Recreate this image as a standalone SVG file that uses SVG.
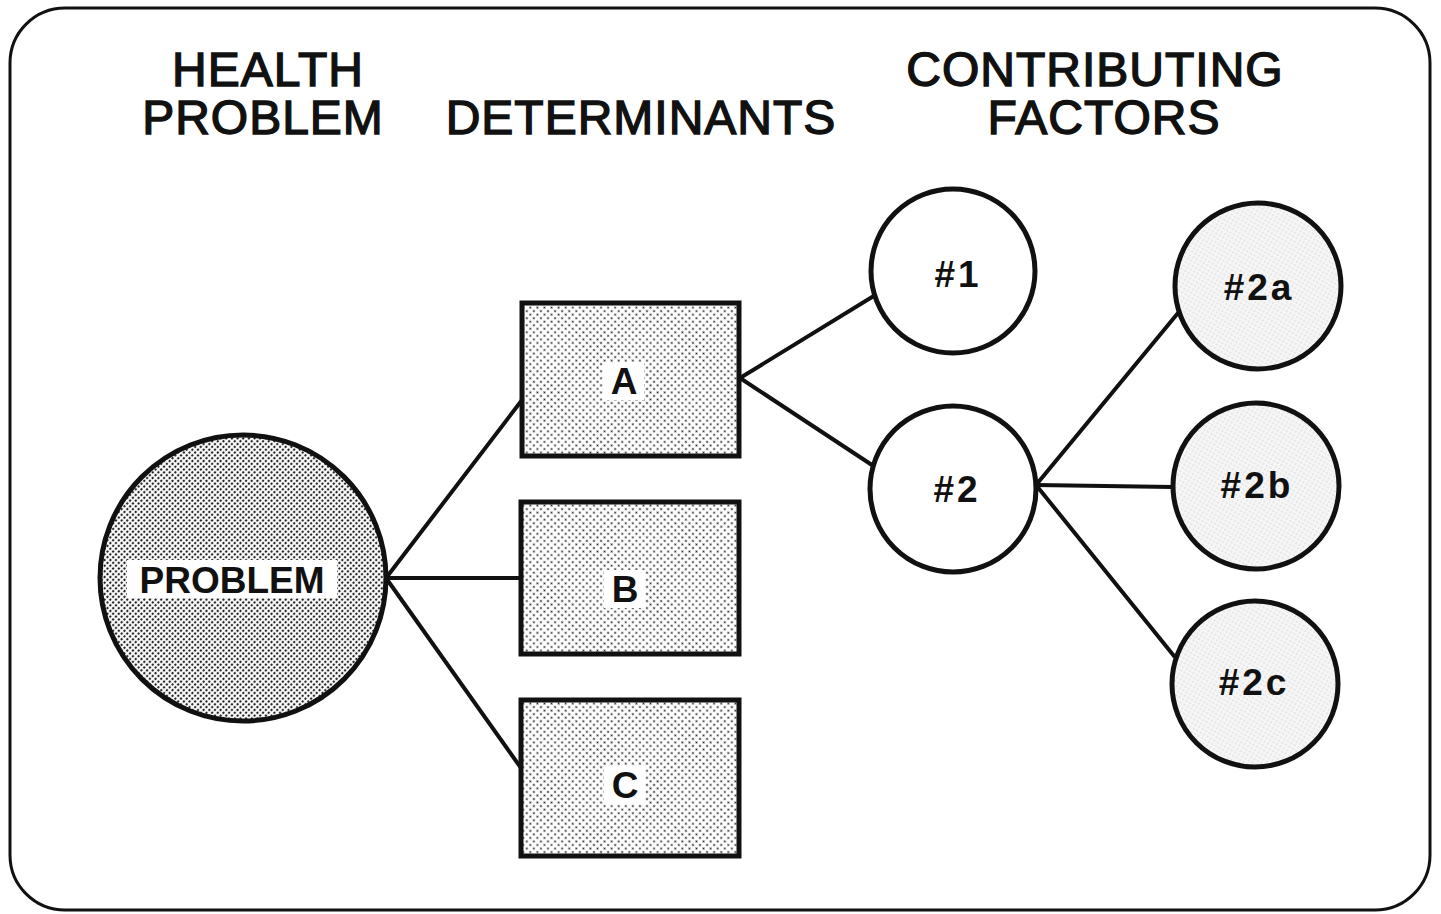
<svg xmlns="http://www.w3.org/2000/svg" width="1441" height="914" viewBox="0 0 1441 914">
<style>
.hdr{font-family:"Liberation Sans",Arial,sans-serif;font-weight:normal;font-size:48px;fill:#111;stroke:#111;stroke-width:1.4px;text-anchor:middle;letter-spacing:1px}
.lbl{font-family:"Liberation Sans",Arial,sans-serif;font-weight:bold;font-size:37px;fill:#111;text-anchor:middle}
.num{font-family:"Liberation Sans",Arial,sans-serif;font-weight:bold;font-size:37px;fill:#111;text-anchor:middle;letter-spacing:3px}
.shape{stroke:#111;stroke-width:5}
.conn line{stroke:#111;stroke-width:4;stroke-linecap:round}
.bg{fill:#fff}
</style>
<defs>
<pattern id="dense" width="4" height="4" patternUnits="userSpaceOnUse" patternTransform="rotate(45)">
<rect width="4" height="4" fill="#fff"/><circle cx="2" cy="2" r="1.2" fill="#222"/>
</pattern>
<pattern id="med" width="5" height="5" patternUnits="userSpaceOnUse" patternTransform="rotate(45)">
<rect width="5" height="5" fill="#fff"/><circle cx="2.5" cy="2.5" r="1.05" fill="#222"/>
</pattern>
<pattern id="light" width="4" height="4" patternUnits="userSpaceOnUse" patternTransform="rotate(30)">
<rect width="4" height="4" fill="#f6f6f6"/><circle cx="2" cy="2" r="0.45" fill="#777"/>
</pattern>
</defs>
<rect width="1441" height="914" fill="#fff"/>
<rect id="frame" x="10" y="8" width="1420" height="902" rx="55" ry="55" fill="none" stroke="#111" stroke-width="3"/>
<g id="headers">
<text class="hdr" x="268" y="86">HEALTH</text>
<text class="hdr" x="263" y="134">PROBLEM</text>
<text class="hdr" x="641" y="134">DETERMINANTS</text>
<text class="hdr" x="1095" y="86">CONTRIBUTING</text>
<text class="hdr" x="1104" y="134">FACTORS</text>
</g>
<g class="conn" id="connectors">
<line x1="386" y1="578" x2="522" y2="400"/>
<line x1="386" y1="578" x2="521" y2="578"/>
<line x1="386" y1="578" x2="521" y2="768"/>
<line x1="740" y1="378" x2="877" y2="294"/>
<line x1="740" y1="378" x2="875" y2="467"/>
<line x1="1036" y1="485" x2="1178" y2="313"/>
<line x1="1036" y1="485" x2="1173" y2="487"/>
<line x1="1036" y1="485" x2="1174" y2="656"/>
</g>
<g id="problem">
<circle class="shape" cx="243" cy="578" r="143" fill="url(#dense)"/>
<rect class="bg" x="127" y="560" width="210" height="38"/>
<text class="lbl" x="232" y="593">PROBLEM</text>
</g>
<g id="A">
<rect class="shape" x="522" y="303" width="217" height="153" fill="url(#med)" stroke-width="6"/>
<rect class="bg" x="603" y="362" width="41" height="38"/>
<text class="lbl" x="624" y="394">A</text>
</g>
<g id="B">
<rect class="shape" x="521" y="502" width="218" height="152" fill="url(#med)" stroke-width="6"/>
<rect class="bg" x="604" y="570" width="41" height="38"/>
<text class="lbl" x="625" y="602">B</text>
</g>
<g id="C">
<rect class="shape" x="521" y="700" width="218" height="156" fill="url(#med)" stroke-width="6"/>
<rect class="bg" x="604" y="766" width="41" height="38"/>
<text class="lbl" x="625" y="798">C</text>
</g>
<g id="f1">
<circle class="shape" cx="953" cy="271" r="82" fill="#fff"/>
<text class="num" x="958" y="287">#1</text>
</g>
<g id="f2">
<circle class="shape" cx="953" cy="489" r="83" fill="#fff"/>
<text class="num" x="957" y="502">#2</text>
</g>
<g id="f2a">
<circle class="shape" cx="1258" cy="286" r="83" fill="url(#light)"/>
<text class="num" x="1259" y="300">#2a</text>
</g>
<g id="f2b">
<circle class="shape" cx="1256" cy="486" r="83" fill="url(#light)"/>
<text class="num" x="1257" y="498">#2b</text>
</g>
<g id="f2c">
<circle class="shape" cx="1255" cy="684" r="83" fill="url(#light)"/>
<text class="num" x="1254" y="695">#2c</text>
</g>
</svg>
